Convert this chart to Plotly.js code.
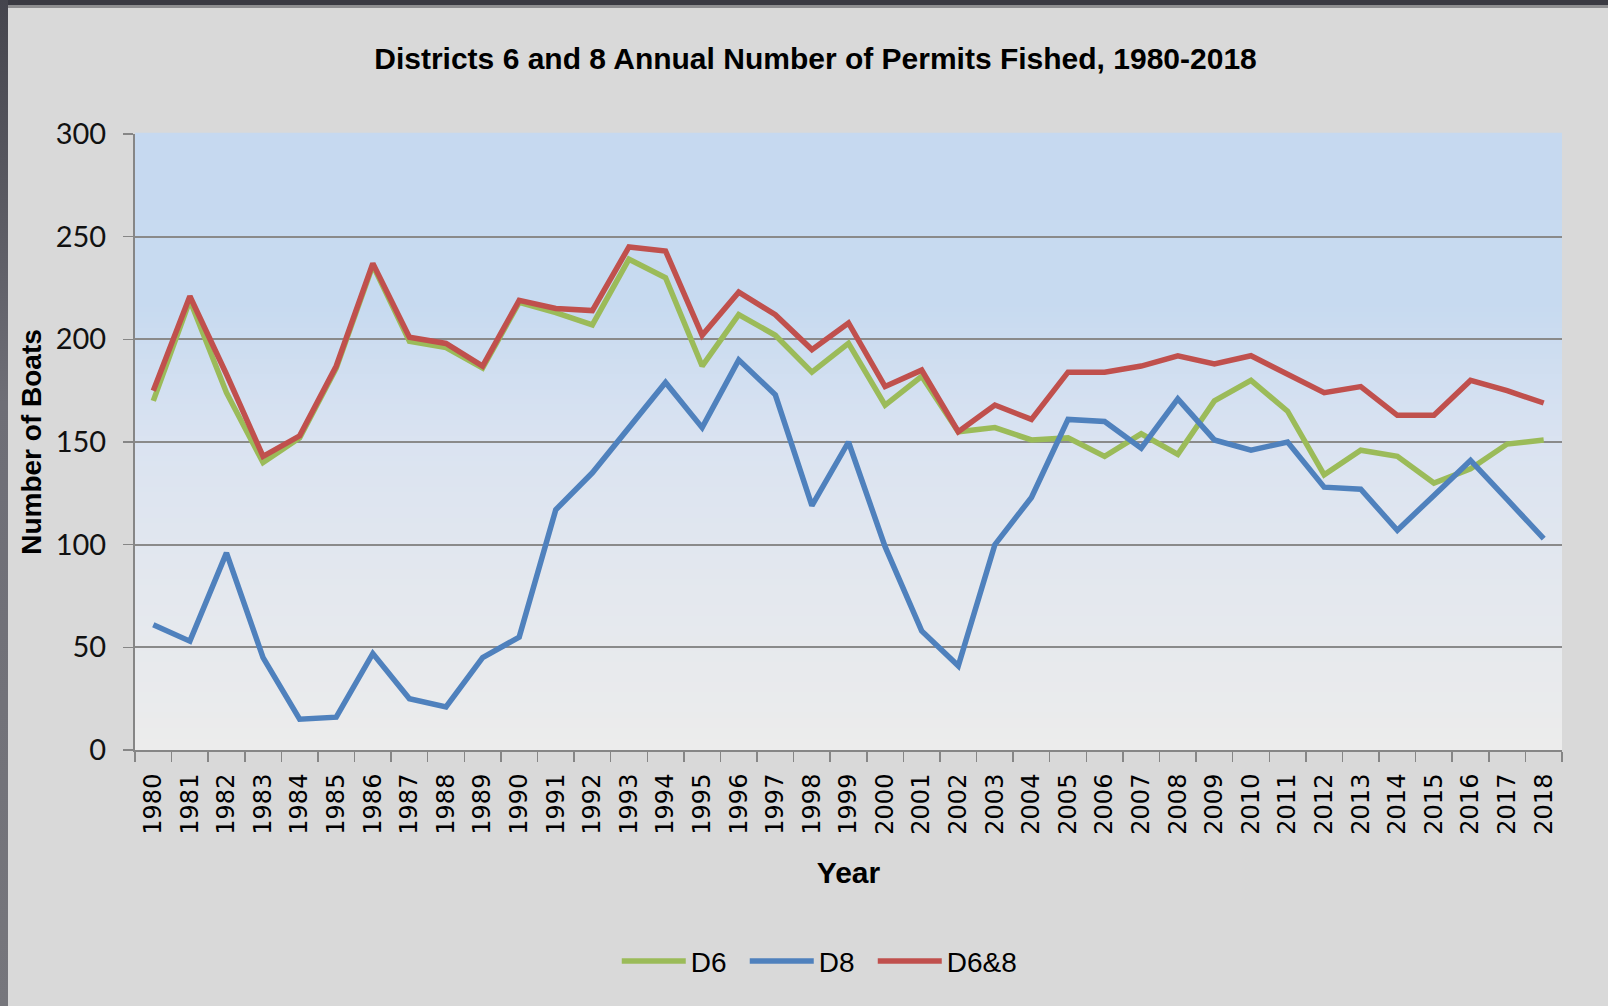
<!DOCTYPE html>
<html>
<head>
<meta charset="utf-8">
<script src="https://cdn.plot.ly/plotly-3.0.1.min.js"></script>
<style>
  html, body { margin: 0; padding: 0; width: 1608px; height: 1006px; overflow: hidden; background: #d9d9d9; }
  #frame { position: absolute; left: 0; top: 0; width: 1608px; height: 1006px;
           background: linear-gradient(to bottom, #3a3a42 0px, #3a3a42 5px, #8e8e90 5px, #8e8e90 8px, #d9d9d9 8px); }
  #leftbar { position: absolute; left: 0; top: 0; width: 8px; height: 1006px;
             background: linear-gradient(to bottom, #45454d, #6e6e76 40%, #76767c); }
  #chart { position: absolute; left: 8px; top: 8px; width: 1600px; height: 998px; }
</style>
</head>
<body>
<div id="frame"></div>
<div id="leftbar"></div>
<div id="chart"></div>
<script>
// ---- data ----
const years = ["1980","1981","1982","1983","1984","1985","1986","1987","1988","1989",
               "1990","1991","1992","1993","1994","1995","1996","1997","1998","1999",
               "2000","2001","2002","2003","2004","2005","2006","2007","2008","2009",
               "2010","2011","2012","2013","2014","2015","2016","2017","2018"];
const d6  = [170, 219, 174, 140, 152, 186, 236, 199, 196, 186,
             218, 213, 207, 239, 230, 187, 212, 202, 184, 198,
             168, 182, 155, 157, 151, 152, 143, 154, 144, 170,
             180, 165, 134, 146, 143, 130, 137, 149, 151];
const d8  = [61, 53, 96, 45, 15, 16, 47, 25, 21, 45,
             55, 117, 135, 157, 179, 157, 190, 173, 119, 150,
             99, 58, 41, 100, 123, 161, 160, 147, 171, 151,
             146, 150, 128, 127, 107, 124, 141, 122, 103];
const d68 = [175, 221, 183, 143, 153, 187, 237, 201, 198, 187,
             219, 215, 214, 245, 243, 202, 223, 212, 195, 208,
             177, 185, 155, 168, 161, 184, 184, 187, 192, 188,
             192, 183, 174, 177, 163, 163, 180, 175, 169];
const seriesNames = ["D6", "D8", "D6&8"];
const seriesColors = ["#9bbb59", "#4f81bd", "#c0504d"];
const titleText = "Districts 6 and 8 Annual Number of Permits Fished, 1980-2018";
const yTitle = "Number of Boats";
const xTitle = "Year";

// ---- plot-area gradient (decoration) ----
const stops = [[0, [198,217,240]], [0.28, [199,218,240]], [0.5, [218,227,241]], [0.75, [228,232,238]], [1, [236,236,236]]];
function colAt(t) {
  for (let i = 0; i < stops.length - 1; i++) {
    const [t0, c0] = stops[i], [t1, c1] = stops[i+1];
    if (t >= t0 && t <= t1) {
      const f = (t - t0) / (t1 - t0);
      return 'rgb(' + c0.map((v, k) => Math.round(v + (c1[k]-v)*f)).join(',') + ')';
    }
  }
  return 'rgb(236,236,236)';
}
const shapes = [];
const N = 120;
for (let i = 0; i < N; i++) {
  const y1 = 1 - i / N, y0 = 1 - (i + 1) / N;
  shapes.push({type: 'rect', xref: 'x domain', yref: 'y domain', x0: 0, x1: 1, y0: y0, y1: y1 + 0.002,
               fillcolor: colAt((i + 0.5) / N), line: {width: 0}, layer: 'below'});
}

const data = [d6, d8, d68].map((vals, i) => ({
  type: 'scatter', mode: 'lines', x: years, y: vals, name: seriesNames[i],
  line: {color: seriesColors[i], width: 5.5},
  legendwidth: i === 2 ? 100 : 49
}));

const layout = {
  width: 1600, height: 998,
  paper_bgcolor: '#d9d9d9', plot_bgcolor: '#ececec',
  margin: {l: 127, r: 46, t: 126, b: 256},
  title: {text: titleText, xref: 'container', x: 0.5047, xanchor: 'center',
          yref: 'container', y: 0.949, yanchor: 'middle',
          font: {family: 'Liberation Sans Narrow, Arial Narrow, Liberation Sans, sans-serif', size: 30, color: '#000', weight: 'bold'}},
  xaxis: {type: 'category', range: [-0.5, 38.5], tickson: 'boundaries',
          showline: true, linecolor: '#868686', linewidth: 2,
          ticks: 'outside', ticklen: 10, tickcolor: '#868686', tickwidth: 1.5,
          showgrid: false, zeroline: false, tickangle: -90, ticklabelstandoff: 12,
          tickfont: {family: 'DejaVu Sans, sans-serif', size: 24, color: '#000'},
          title: {text: xTitle, standoff: 28,
                  font: {family: 'Liberation Sans Narrow, Arial Narrow, Liberation Sans, sans-serif', size: 30, color: '#000', weight: 'bold'}},
          automargin: false, fixedrange: true},
  yaxis: {range: [0, 300], dtick: 50, tick0: 0,
          showline: true, linecolor: '#868686', linewidth: 2,
          ticks: 'outside', ticklen: 10, tickcolor: '#868686', tickwidth: 1.5,
          showgrid: true, gridcolor: '#8a8a8a', gridwidth: 2, zeroline: false,
          ticklabelstandoff: 11,
          tickfont: {family: 'Lato, Liberation Sans, sans-serif', size: 29, color: '#111'},
          title: {text: yTitle, standoff: 6,
                  font: {family: 'Liberation Sans, Arial, sans-serif', size: 28, color: '#000', weight: 'bold'}},
          automargin: false, fixedrange: true},
  showlegend: true,
  legend: {orientation: 'h', x: 0.3376, xanchor: 'left', y: -0.343, yanchor: 'middle',
           bgcolor: 'rgba(0,0,0,0)', itemwidth: 64, entrywidthmode: 'pixels', tracegroupgap: 0,
           font: {family: 'Liberation Sans Narrow, Arial Narrow, Liberation Sans, sans-serif', size: 28, color: '#000'}},
  shapes: shapes
};

Plotly.newPlot('chart', data, layout, {displayModeBar: false, staticPlot: true});
</script>
</body>
</html>
